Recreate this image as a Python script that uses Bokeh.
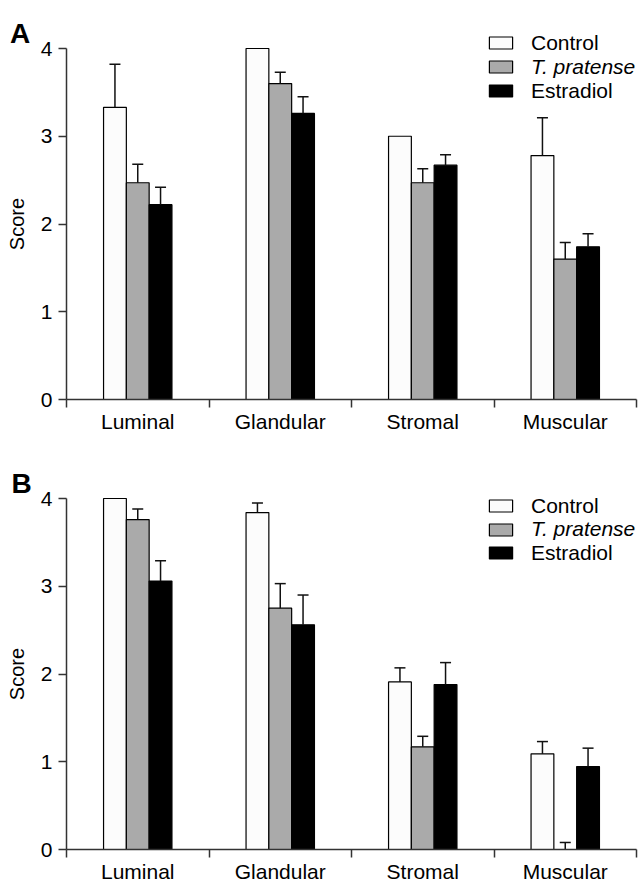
from bokeh.plotting import figure
from bokeh.models import (Range1d, FixedTicker, Legend, LegendItem, Label,
                          Whisker, TeeHead, ColumnDataSource)
from bokeh.layouts import column
from bokeh.embed import file_html
from bokeh.resources import INLINE

# ---------------- data ----------------
categories = ["Luminal", "Glandular", "Stromal", "Muscular"]
groups = ["Control", "T. pratense", "Estradiol"]
group_colors = ["#fcfcfc", "#aaaaaa", "#000000"]
y_ticks = [0, 1, 2, 3, 4]

a_control = [3.33, 4.00, 3.00, 2.78]
a_control_err = [0.49, 0.0, 0.0, 0.43]
a_pratense = [2.47, 3.60, 2.47, 1.60]
a_pratense_err = [0.21, 0.13, 0.16, 0.19]
a_estradiol = [2.22, 3.26, 2.67, 1.74]
a_estradiol_err = [0.20, 0.19, 0.12, 0.15]

b_control = [4.00, 3.84, 1.91, 1.09]
b_control_err = [0.0, 0.11, 0.16, 0.14]
b_pratense = [3.76, 2.75, 1.17, 0.0]
b_pratense_err = [0.12, 0.28, 0.12, 0.08]
b_estradiol = [3.06, 2.56, 1.88, 0.945]
b_estradiol_err = [0.23, 0.34, 0.25, 0.21]

FONT = "Liberation Sans"
BAR_W = 0.16
AXIS_COLOR = "#333333"
WIDTH = 640
X0_PX = 66          # pixel position of x = 0 within the figure
PX_PER_CAT = 142.5  # pixels per category
PX_PER_UNIT = 87.75 # pixels per score unit


def make_panel(letter, series, errors, height, y0_px, legend_ys, lab_standoff, letter_xy):
    ncat = len(categories)
    x_range = Range1d(-X0_PX / PX_PER_CAT, (WIDTH - X0_PX) / PX_PER_CAT)
    y_range = Range1d(-(height - y0_px) / PX_PER_UNIT, y0_px / PX_PER_UNIT)
    p = figure(width=WIDTH, height=height, output_backend="svg", toolbar_location=None,
               x_range=x_range, y_range=y_range,
               min_border_left=0, min_border_right=0,
               min_border_top=0, min_border_bottom=0)
    p.outline_line_color = None
    p.xgrid.visible = False
    p.ygrid.visible = False
    p.background_fill_color = "white"
    p.border_fill_color = "white"

    renderers = []
    for g, (vals, errs) in enumerate(zip(series, errors)):
        xs = [i + 0.5 + (g - 1) * BAR_W for i in range(ncat)]
        src = ColumnDataSource(dict(x=xs, top=vals))
        r = p.vbar(x="x", top="top", width=BAR_W, bottom=0, source=src,
                   fill_color=group_colors[g], line_color="black", line_width=1.2)
        renderers.append(r)
        wx = [x for x, e in zip(xs, errs) if e > 0]
        wlo = [v for v, e in zip(vals, errs) if e > 0]
        whi = [v + e for v, e in zip(vals, errs) if e > 0]
        wsrc = ColumnDataSource(dict(x=wx, lo=wlo, hi=whi))
        w = Whisker(base="x", lower="lo", upper="hi", source=wsrc,
                    lower_head=None,
                    upper_head=TeeHead(size=11, line_width=1.5, line_color="#111111"),
                    line_width=1.5, line_color="#111111", level="glyph")
        p.add_layout(w)

    # axes (drawn at x = 0 / y = 0 inside the frame)
    xa = p.xaxis[0]
    xa.fixed_location = 0
    xa.bounds = (0, ncat)
    xa.ticker = FixedTicker(ticks=[i + 0.5 for i in range(ncat)],
                            minor_ticks=list(range(ncat + 1)))
    xa.major_label_overrides = {i + 0.5: c for i, c in enumerate(categories)}
    xa.major_tick_out = 0
    xa.major_tick_in = 0
    xa.minor_tick_out = 8
    xa.minor_tick_in = 0
    xa.minor_tick_line_color = AXIS_COLOR
    xa.minor_tick_line_width = 1.5
    xa.axis_line_color = AXIS_COLOR
    xa.axis_line_width = 1.5
    xa.major_label_text_font = FONT
    xa.major_label_text_font_size = "21px"
    xa.major_label_text_color = "black"
    xa.major_label_standoff = lab_standoff

    ya = p.yaxis[0]
    ya.fixed_location = 0
    ya.bounds = (0, 4)
    ya.ticker = FixedTicker(ticks=y_ticks)
    ya.major_tick_out = 8
    ya.major_tick_in = 0
    ya.minor_tick_line_color = None
    ya.major_tick_line_color = AXIS_COLOR
    ya.major_tick_line_width = 1.5
    ya.axis_line_color = AXIS_COLOR
    ya.axis_line_width = 1.5
    ya.major_label_text_font = FONT
    ya.major_label_text_font_size = "21px"
    ya.major_label_text_color = "black"
    ya.major_label_standoff = 6
    ya.axis_label = "Score"
    ya.axis_label_text_font = FONT
    ya.axis_label_text_font_size = "20px"
    ya.axis_label_text_font_style = "normal"
    ya.axis_label_text_color = "black"
    ya.axis_label_standoff = 10

    # legend (one per entry so that only T. pratense is italic)
    for g, name in enumerate(groups):
        lg = Legend(items=[LegendItem(label=name, renderers=[renderers[g]])],
                    location=(486, legend_ys[g]), padding=0, margin=0, spacing=0,
                    border_line_color=None, background_fill_alpha=0,
                    glyph_width=29, glyph_height=15, label_height=24,
                    label_standoff=16, label_text_font=FONT,
                    label_text_font_size="21px", label_text_color="black",
                    label_text_font_style="italic" if g == 1 else "normal")
        p.add_layout(lg, "center")

    p.add_layout(Label(x=letter_xy[0], y=letter_xy[1], x_units="screen", y_units="screen",
                       text=letter, text_font=FONT, text_font_size="28px",
                       text_font_style="bold", text_baseline="alphabetic",
                       text_color="black"))
    return p


pa = make_panel("A", [a_control, a_pratense, a_estradiol],
                [a_control_err, a_pratense_err, a_estradiol_err],
                height=440, y0_px=399, legend_ys=[385.5, 361.5, 337.5], lab_standoff=2,
                letter_xy=(9.5, 406.7))

pb = make_panel("B", [b_control, b_pratense, b_estradiol],
                [b_control_err, b_pratense_err, b_estradiol_err],
                height=445, y0_px=409, legend_ys=[367.5, 343.8, 320.2], lab_standoff=2,
                letter_xy=(11, 401.7))

layout = column(pa, pb, spacing=0)
open("out.html", "w").write(file_html(layout, INLINE))
